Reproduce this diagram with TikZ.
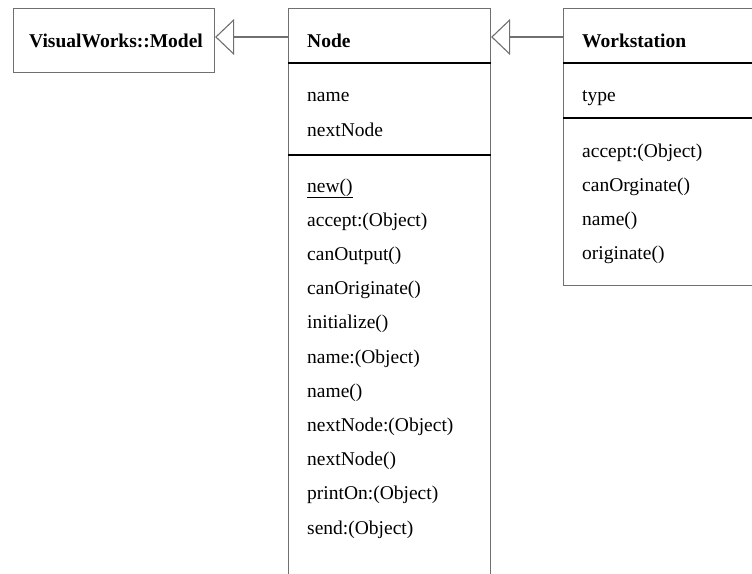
\documentclass[tikz,border=0pt]{standalone}
\usepackage{fontspec}
\setmainfont{Liberation Serif}
\usetikzlibrary{arrows.meta}
\definecolor{boxgray}{HTML}{707070}
\begin{document}
\begin{tikzpicture}[x=1pt,y=-1pt,
  classbox/.style={draw=boxgray, line width=1.1pt, anchor=north west, inner sep=0pt},
  sep/.style={draw=black, line width=1.6pt},
  lightsep/.style={draw=black, line width=1.1pt},
  member/.style={anchor=base west, inner sep=0pt, font=\fontsize{19.5}{23}\selectfont},
  classname/.style={member, font=\fontsize{19.5}{23}\selectfont\bfseries},
  gen/.style={draw=boxgray, line width=1.1pt,
    -{Triangle[open, length=19pt, width=36pt, fill=white]}}
]
\useasboundingbox (0,0) rectangle (752,573);
\clip (0,0) rectangle (752,573);

% class boxes (Node runs off the bottom, Workstation off the right)
\node[classbox, minimum width=201pt, minimum height=64pt] (model) at (13,8) {};
\node[classbox, minimum width=202pt, minimum height=620pt] (nodecls) at (288,8) {};
\node[classbox, minimum width=230pt, minimum height=277pt] (ws) at (563,8) {};

% compartment separators
\draw[sep] ([yshift=-55pt]nodecls.north west) -- ([yshift=-55pt]nodecls.north east);
\draw[lightsep] ([yshift=-147pt]nodecls.north west) -- ([yshift=-147pt]nodecls.north east);
\draw[sep] ([yshift=-55pt]ws.north west) -- ([yshift=-55pt]ws.north east);
\draw[sep] ([yshift=-110pt]ws.north west) -- ([yshift=-110pt]ws.north east);

% class names
\node[classname] (modelname) at (29,47) {VisualWorks::Model};
\node[classname] (nodename) at (307,47) {Node};
\node[classname] (wsname) at (582,47) {Workstation};

% Node attributes
\node[member] (na1) at (307,101) {name};
\node[member] (na2) at (307,136) {nextNode};

% Node operations
\node[member] (nm1) at (307,192) {\underline{new()}};
\foreach \txt [count=\i from 2] in {accept:(Object), canOutput(), canOriginate(),
    initialize(), name:(Object), name(), nextNode:(Object), nextNode(),
    printOn:(Object), send:(Object)}
  \node[member] (nm\i) at (307,{192+34.2*(\i-1)}) {\txt};

% Workstation attributes and operations
\node[member] (wa1) at (582,101) {type};
\foreach \txt [count=\i] in {accept:(Object), canOrginate(), name(), originate()}
  \node[member] (wm\i) at (582,{157+34*(\i-1)}) {\txt};

% generalisation connectors
\coordinate (ntail) at ([yshift=-29pt]nodecls.north west);
\coordinate (wtail) at ([yshift=-29pt]ws.north west);
\draw[gen] (ntail) -- (ntail -| model.east);
\draw[gen] (wtail) -- (wtail -| nodecls.east);
\end{tikzpicture}
\end{document}
